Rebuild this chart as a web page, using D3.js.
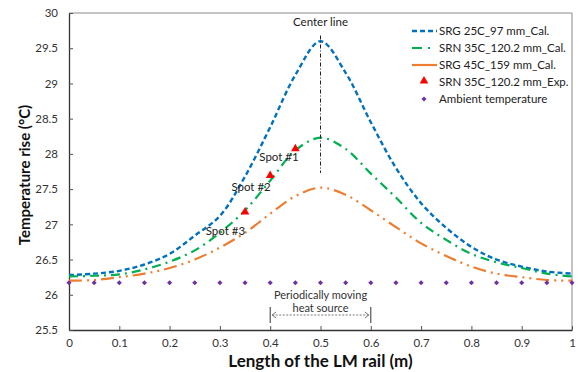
<!DOCTYPE html>
<html>
<head>
<meta charset="utf-8">
<script src="https://cdn.jsdelivr.net/npm/d3@7/dist/d3.min.js"></script>
<style>
  html, body { margin: 0; padding: 0; background: #fff; }
  text { font-family: Lato, "Open Sans", sans-serif; }
</style>
</head>
<body>
<div id="chart"></div>
<script>
// data
const xs = d3.range(0, 21).map((i) => i / 20);
const srg25 = [26.28, 26.3, 26.34, 26.43, 26.58, 26.84, 27.12, 27.68, 28.38, 29.12, 29.6,
  29.15, 28.45, 27.8, 27.3, 26.95, 26.68, 26.5, 26.4, 26.33, 26.3];
const srn35 = [26.26, 26.27, 26.29, 26.36, 26.47, 26.63, 26.88, 27.2, 27.62, 28.05, 28.23,
  28.07, 27.72, 27.38, 27.02, 26.78, 26.58, 26.46, 26.38, 26.3, 26.26];
const srg45 = [26.2, 26.21, 26.25, 26.3, 26.38, 26.5, 26.67, 26.88, 27.15, 27.4, 27.52,
  27.42, 27.2, 26.96, 26.73, 26.55, 26.4, 26.3, 26.25, 26.21, 26.2];
const expX = [0.35, 0.4, 0.45];
const expY = [27.16, 27.68, 28.06];
const ambient = 26.17;
const spotLabels = ["Spot #1", "Spot #2", "Spot #3"];
const xTicks = [0, 0.1, 0.2, 0.3, 0.4, 0.5, 0.6, 0.7, 0.8, 0.9, 1];
const yTicks = [25.5, 26, 26.5, 27, 27.5, 28, 28.5, 29, 29.5, 30];

const W = 579, H = 372;
const m = { top: 13, right: 6, bottom: 42, left: 69 };

const svg = d3.select("#chart").append("svg")
  .attr("width", W).attr("height", H);

const x = d3.scaleLinear().domain([0, 1]).range([m.left, W - m.right - 1]);
const y = d3.scaleLinear().domain([25.5, 30]).range([H - m.bottom, m.top]);

// frame (top/right)
svg.append("path")
  .attr("d", `M${x(0)},${y(30)}H${x(1)}V${y(25.5)}`)
  .attr("fill", "none").attr("stroke", "#8a8a8a").attr("stroke-width", 1);

// axes
const fmt = (d) => d3.format("")(d);
const xAxis = svg.append("g")
  .attr("transform", `translate(0,${y(25.5)})`)
  .call(d3.axisBottom(x).tickValues(xTicks).tickSizeInner(-4).tickSizeOuter(0).tickFormat(fmt));
const yAxis = svg.append("g")
  .attr("transform", `translate(${x(0)},0)`)
  .call(d3.axisLeft(y).tickValues(yTicks).tickSizeInner(-4).tickSizeOuter(0).tickFormat(fmt));
[xAxis, yAxis].forEach((a) => {
  a.select(".domain").attr("stroke", "#333").attr("stroke-width", 1.3);
  a.selectAll(".tick line").attr("stroke", "#555");
  a.selectAll(".tick text").attr("fill", "#333").style("font-size", "11.5px");
});
xAxis.selectAll(".tick text").attr("y", 9);
yAxis.selectAll(".tick text").attr("x", -11);

// axis titles
svg.append("text")
  .attr("x", x(0.5)).attr("y", 367)
  .attr("text-anchor", "middle")
  .style("font-size", "17px").style("font-weight", "bold").attr("fill", "#111")
  .text("Length of the LM rail (m)");
svg.append("text")
  .attr("transform", `translate(30,${y(27.7)}) rotate(-90)`)
  .attr("text-anchor", "middle")
  .style("font-size", "15px").style("font-weight", "bold").attr("fill", "#111")
  .text("Temperature rise (\u00b0C)");

// curves
const series = [
  { name: "SRG 25C_97 mm_Cal.", vals: srg25, color: "#0070c0", dash: "5,3", w: 2.4 },
  { name: "SRN 35C_120.2 mm_Cal.", vals: srn35, color: "#00b050", dash: "9,5,2,5", w: 2.2 },
  { name: "SRG 45C_159 mm_Cal.", vals: srg45, color: "#ed7d31", dash: "13,5,2,5,2,5", w: 2.2 },
];
const line = d3.line().x((d) => x(d[0])).y((d) => y(d[1])).curve(d3.curveCatmullRom);
series.forEach((s) => {
  svg.append("path")
    .datum(xs.map((v, i) => [v, s.vals[i]]))
    .attr("d", line)
    .attr("fill", "none")
    .attr("stroke", s.color)
    .attr("stroke-width", s.w)
    .attr("stroke-dasharray", s.dash);
});

// ambient
const diamond = d3.symbol().type(d3.symbolSquare).size(13);
svg.append("g").selectAll("path")
  .data(xs)
  .join("path")
  .attr("d", diamond)
  .attr("transform", (d) => `translate(${x(d)},${y(ambient)}) rotate(45)`)
  .attr("fill", "#7030a0");

// experiment points
const tri = d3.symbol().type(d3.symbolTriangle).size(32);
svg.append("g").selectAll("path")
  .data(expX.map((v, i) => [v, expY[i]]))
  .join("path")
  .attr("d", tri)
  .attr("transform", (d) => `translate(${x(d[0])},${y(d[1]) - 1})`)
  .attr("fill", "#ff0000");

// spot labels
const spotPos = [[0.4175, 27.96], [0.362, 27.53], [0.311, 26.9]];
svg.append("g").selectAll("text")
  .data(spotLabels)
  .join("text")
  .attr("x", (d, i) => x(spotPos[i][0]))
  .attr("y", (d, i) => y(spotPos[i][1]))
  .attr("text-anchor", "middle")
  .attr("dy", "0.35em")
  .attr("fill", "#222")
  .style("font-size", "11.5px")
  .text((d) => d);

// center line
svg.append("line")
  .attr("x1", x(0.5)).attr("x2", x(0.5))
  .attr("y1", y(29.68)).attr("y2", y(27.73))
  .attr("stroke", "#222").attr("stroke-width", 1)
  .attr("stroke-dasharray", "4,2,1,2");
svg.append("text")
  .attr("x", x(0.5)).attr("y", 26)
  .attr("text-anchor", "middle")
  .attr("fill", "#222").style("font-size", "11.5px")
  .text("Center line");

// heat source
svg.append("text")
  .attr("x", x(0.5)).attr("y", 299)
  .attr("text-anchor", "middle")
  .attr("fill", "#333").style("font-size", "11px")
  .text("Periodically moving");
svg.append("text")
  .attr("x", x(0.5)).attr("y", 312)
  .attr("text-anchor", "middle")
  .attr("fill", "#333").style("font-size", "11px")
  .text("heat source");
const hy = 315;
[0.4, 0.6].forEach((v) => {
  svg.append("line")
    .attr("x1", x(v)).attr("x2", x(v))
    .attr("y1", 307).attr("y2", 323)
    .attr("stroke", "#333").attr("stroke-width", 1);
});
svg.append("line")
  .attr("x1", x(0.4) + 2).attr("x2", x(0.6) - 2)
  .attr("y1", hy).attr("y2", hy)
  .attr("stroke", "#555").attr("stroke-width", 0.8)
  .attr("stroke-dasharray", "2,1.5");
svg.append("path")
  .attr("d", `M${x(0.4) + 6},${hy - 3}L${x(0.4) + 2},${hy}L${x(0.4) + 6},${hy + 3}` +
    `M${x(0.6) - 6},${hy - 3}L${x(0.6) - 2},${hy}L${x(0.6) - 6},${hy + 3}`)
  .attr("fill", "none").attr("stroke", "#555").attr("stroke-width", 0.8);

// legend
const lg = svg.append("g").attr("transform", "translate(412,31)");
const rowH = 17;
series.forEach((s, i) => {
  lg.append("line")
    .attr("x1", 0).attr("x2", 25).attr("y1", i * rowH).attr("y2", i * rowH)
    .attr("stroke", s.color).attr("stroke-width", s.w)
    .attr("stroke-dasharray", i === 0 ? "5,3" : i === 1 ? "10,6,2,10" : null);
});
lg.append("path").attr("d", tri)
  .attr("transform", `translate(12,${3 * rowH - 1})`).attr("fill", "#ff0000");
lg.append("path").attr("d", diamond)
  .attr("transform", `translate(12,${4 * rowH}) rotate(45)`).attr("fill", "#7030a0");
const legNames = series.map((s) => s.name).concat(["SRN 35C_120.2 mm_Exp.", "Ambient temperature"]);
lg.selectAll("text.lt")
  .data(legNames)
  .join("text")
  .attr("class", "lt")
  .attr("x", 27)
  .attr("y", (d, i) => i * rowH)
  .attr("dy", "0.35em")
  .attr("fill", "#222")
  .style("font-size", "11.5px")
  .text((d) => d);
</script>
</body>
</html>
